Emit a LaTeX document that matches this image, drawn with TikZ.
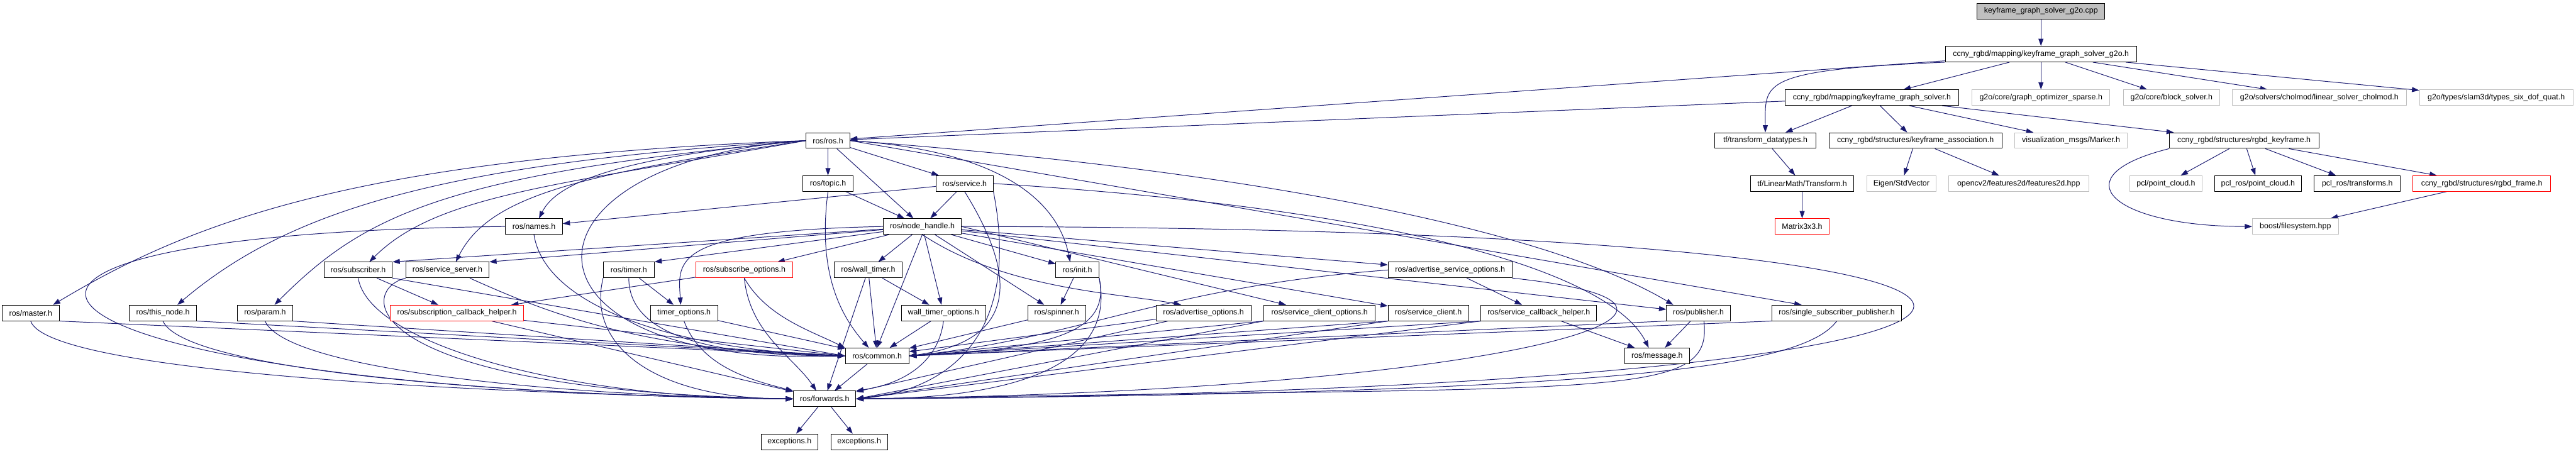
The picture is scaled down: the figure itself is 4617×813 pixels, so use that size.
\documentclass[tikz,border=0pt]{standalone}
\usepackage{fontspec}
\setmainfont{Liberation Sans}
\usepackage{tikz}
\usetikzlibrary{arrows.meta,positioning,backgrounds}
\definecolor{edgeblue}{RGB}{25,25,112}
\definecolor{greyline}{RGB}{191,191,191}

\begin{document}
\begin{tikzpicture}[x=1pt, y=-1pt,
    file/.style={rectangle, draw=black, line width=1.1pt, fill=white, minimum height=28pt,
        inner xsep=3pt, inner ysep=0pt, font=\fontsize{14}{16}\selectfont},
    doc/.style={file},
    ext/.style={file, draw=greyline},
    trunc/.style={file, draw=red},
    root/.style={file, fill=greyline},
    inc/.style={draw=edgeblue, line width=1.1pt, -{Triangle[length=13pt,width=9pt]}},
]
    \useasboundingbox (0,0) rectangle (4617,813);

    \node[root, minimum width=229pt] (cpp) at (3658,20) {keyframe\_graph\_solver\_g2o.cpp};
    \node[doc, minimum width=343pt] (g2oh) at (3658,97) {ccny\_rgbd/mapping/keyframe\_graph\_solver\_g2o.h};

    \node[doc, minimum width=311pt] (kgs) at (3355,175) {ccny\_rgbd/mapping/keyframe\_graph\_solver.h};
    \node[ext, minimum width=247pt] (gos) at (3658,175) {g2o/core/graph\_optimizer\_sparse.h};
    \node[ext, minimum width=172pt] (bs) at (3892,175) {g2o/core/block\_solver.h};
    \node[ext, minimum width=312pt] (lsc) at (4157,175) {g2o/solvers/cholmod/linear\_solver\_cholmod.h};
    \node[ext, minimum width=275pt] (tsdq) at (4474,175) {g2o/types/slam3d/types\_six\_dof\_quat.h};

    \node[doc, minimum width=78pt] (rosh) at (1484,252) {ros/ros.h};
    \node[doc, minimum width=182pt] (tfdt) at (3164,252) {tf/transform\_datatypes.h};
    \node[doc, minimum width=310pt] (kfa) at (3433,252) {ccny\_rgbd/structures/keyframe\_association.h};
    \node[ext, minimum width=202pt] (marker) at (3712,252) {visualization\_msgs/Marker.h};
    \node[doc, minimum width=268pt] (kf) at (4022,252) {ccny\_rgbd/structures/rgbd\_keyframe.h};

    \node[doc, minimum width=90pt] (topic) at (1484,329) {ros/topic.h};
    \node[doc, minimum width=102pt] (service) at (1729,329) {ros/service.h};
    \node[doc, minimum width=185pt] (tflm) at (3230,329) {tf/LinearMath/Transform.h};
    \node[ext, minimum width=124pt] (eigen) at (3408,329) {Eigen/StdVector};
    \node[ext, minimum width=251pt] (cv) at (3618,329) {opencv2/features2d/features2d.hpp};
    \node[ext, minimum width=129pt] (pclpc) at (3882,329) {pcl/point\_cloud.h};
    \node[doc, minimum width=155pt] (pclrospc) at (4047,329) {pcl\_ros/point\_cloud.h};
    \node[doc, minimum width=154pt] (pclrostf) at (4225,329) {pcl\_ros/transforms.h};
    \node[trunc, minimum width=247pt] (frame) at (4448,329) {ccny\_rgbd/structures/rgbd\_frame.h};

    \node[doc, minimum width=102pt] (names) at (957,406) {ros/names.h};
    \node[doc, minimum width=140pt] (nh) at (1653,406) {ros/node\_handle.h};
    \node[trunc, minimum width=97pt] (m3) at (3230,406) {Matrix3x3.h};
    \node[ext, minimum width=154pt] (boostfs) at (4114,406) {boost/filesystem.hpp};

    \node[doc, minimum width=122pt] (subscriber) at (642,484) {ros/subscriber.h};
    \node[doc, minimum width=149pt] (sserver) at (802,484) {ros/service\_server.h};
    \node[doc, minimum width=91pt] (timer) at (1127,484) {ros/timer.h};
    \node[trunc, minimum width=173pt] (subopts) at (1334,484) {ros/subscribe\_options.h};
    \node[doc, minimum width=122pt] (wtimer) at (1556,484) {ros/wall\_timer.h};
    \node[doc, minimum width=77pt] (init) at (1931,484) {ros/init.h};
    \node[doc, minimum width=222pt] (asopts) at (2599,484) {ros/advertise\_service\_options.h};

    \node[doc, minimum width=103pt] (master) at (55,561) {ros/master.h};
    \node[doc, minimum width=120pt] (thisnode) at (292,561) {ros/this\_node.h};
    \node[doc, minimum width=99pt] (param) at (475,561) {ros/param.h};
    \node[trunc, minimum width=239pt] (schelper) at (819,561) {ros/subscription\_callback\_helper.h};
    \node[doc, minimum width=121pt] (topts) at (1226,561) {timer\_options.h};
    \node[doc, minimum width=151pt] (wtopts) at (1691,561) {wall\_timer\_options.h};
    \node[doc, minimum width=104pt] (spinner) at (1894,561) {ros/spinner.h};
    \node[doc, minimum width=170pt] (aopts) at (2157,561) {ros/advertise\_options.h};
    \node[doc, minimum width=200pt] (scopts) at (2365,561) {ros/service\_client\_options.h};
    \node[doc, minimum width=144pt] (sclient) at (2560,561) {ros/service\_client.h};
    \node[doc, minimum width=207pt] (cbhelper) at (2758,561) {ros/service\_callback\_helper.h};
    \node[doc, minimum width=114pt] (publisher) at (3044,561) {ros/publisher.h};
    \node[doc, minimum width=232pt] (ssp) at (3292,561) {ros/single\_subscriber\_publisher.h};

    \node[doc, minimum width=114pt] (common) at (1572,638) {ros/common.h};
    \node[doc, minimum width=117pt] (message) at (2970,638) {ros/message.h};
    \node[doc, minimum width=112pt] (fwd) at (1478,715) {ros/forwards.h};
    \node[doc, minimum width=102pt] (exc1) at (1415,792) {exceptions.h};
    \node[doc, minimum width=102pt] (exc2) at (1540,792) {exceptions.h};

    \begin{scope}[on background layer]
    \fill[white] (0,0) rectangle (4617,813);

    \draw[inc] (cpp) -- (g2oh);
    \draw[inc] (g2oh) -- (kgs);
    \draw[inc] (g2oh) -- (gos);
    \draw[inc] (g2oh) -- (bs);
    \draw[inc] (g2oh) -- (lsc);
    \draw[inc] (g2oh) -- (tsdq);
    \draw[inc] (g2oh) -- (rosh);
    \draw[inc] (g2oh.south west) .. controls +(-337,14) and +(0,-88) .. (tfdt.north);
    \draw[inc] (kgs) -- (rosh);
    \draw[inc] (kgs) -- (tfdt);
    \draw[inc] (kgs) -- (kfa);
    \draw[inc] (kgs) -- (marker);
    \draw[inc] (kgs) -- (kf);
    \draw[inc] (tfdt) -- (tflm);
    \draw[inc] (tflm) -- (m3);
    \draw[inc] (kfa) -- (eigen);
    \draw[inc] (kfa) -- (cv);
    \draw[inc] (kf) -- (pclpc);
    \draw[inc] (kf) -- (pclrospc);
    \draw[inc] (kf) -- (pclrostf);
    \draw[inc] (kf) -- (frame);
    \draw[inc] (kf.south west) .. controls +(-200,50) and +(-250,0) .. (boostfs.west);
    \draw[inc] (frame) -- (boostfs);

    \draw[inc] (rosh) -- (topic);
    \draw[inc] (rosh) -- (service);
    \draw[inc] (rosh) -- (nh);
    \draw[inc] (rosh.west) .. controls +(-350,30) and +(30,-60) .. ([xshift=9]names.north);
    \draw[inc] (rosh.west) .. controls +(-800,30) and +(250,-150) .. ([xshift=40]master.north);
    \draw[inc] (rosh.west) .. controls +(-650,40) and +(200,-170) .. ([xshift=26]thisnode.north);
    \draw[inc] (rosh.west) .. controls +(-650,60) and +(160,-160) .. ([xshift=17]param.north);
    \draw[inc] (rosh.west) .. controls +(-450,80) and +(120,-120) .. ([xshift=20]subscriber.north);
    \draw[inc] (rosh.west) .. controls +(-400,60) and +(60,-120) .. ([xshift=15]sserver.north);
    \draw[inc] (rosh.east) .. controls +(300,20) and +(-18,-90) .. ([xshift=-13]init.north);
    \draw[inc] (rosh.east) .. controls +(800,60) and +(-200,-120) .. ([xshift=-45]publisher.north);
    \draw[inc] (rosh.east) -- ([xshift=-63]ssp.north);
    \draw[inc] (rosh.west) .. controls +(-545,38) and +(-615,22) .. (common.west);

    \draw[inc] (topic) -- (nh);
    \draw[inc] (topic.south) .. controls +(-20,150) and +(-47,-54) .. ([xshift=-15]common.north);
    \draw[inc] (service) -- (nh);
    \draw[inc] (service) -- (names);
    \draw[inc] (service.south) .. controls +(91,147) and +(201,-28) .. (common.east);
    \draw[inc] (service.east) .. controls +(800,50) and +(-60,-120) .. ([xshift=-15]message.north);
    \draw[inc] (service.south east) .. controls +(50,257) and +(166,-15) .. (fwd.east);
    \draw[inc] (names.south) .. controls +(20,130) and +(-300,-10) .. (common.west);
    \draw[inc] (names.west) .. controls +(-1206,14) and +(-1422,-15) .. (fwd.west);

    \draw[inc] (nh) -- (subscriber.north east);
    \draw[inc] (nh) -- (sserver.north east);
    \draw[inc] (nh) -- (timer.north east);
    \draw[inc] (nh) -- (subopts);
    \draw[inc] (nh) -- (wtimer);
    \draw[inc] (nh) -- (init);
    \draw[inc] (nh) -- (asopts);
    \draw[inc] (nh) -- (wtopts);
    \draw[inc] (nh) -- (spinner);
    \draw[inc] (nh.south) .. controls +(150,100) and +(-100,-20) .. ([xshift=-40]aopts.north);
    \draw[inc] (nh.east) -- ([xshift=-60]scopts.north);
    \draw[inc] (nh) -- (sclient);
    \draw[inc] (nh) -- (publisher);
    \draw[inc] (nh.west) .. controls +(-380,8) and +(-5,-80) .. ([xshift=-6]topts.north);
    \draw[inc] (nh.south) -- (common.north);
    \draw[inc] (nh.east) .. controls +(2377,4) and +(2416,-15) .. (fwd.east);

    \draw[inc] (subscriber) -- (schelper);
    \draw[inc] (subscriber.south east) -- (common.west);
    \draw[inc] (subscriber.south) .. controls +(20,120) and +(-400,0) .. (fwd.west);
    \draw[inc] ([xshift=40]sserver.south) .. controls +(138,62) and +(-365,-8) .. (common.west);
    \draw[inc] (sserver.south west) .. controls +(-88,22) and +(-782,-15) .. (fwd.west);
    \draw[inc] (timer) -- (topts);
    \draw[inc] (timer.south) .. controls +(0,100) and +(-250,0) .. (common.west);
    \draw[inc] (timer.south west) .. controls +(-30,120) and +(-250,0) .. (fwd.west);
    \draw[inc] (subopts) -- (schelper);
    \draw[inc] (subopts.south) .. controls +(40,70) and +(-60,-30) .. (common.north west);
    \draw[inc] (subopts.south) .. controls +(10,100) and +(-40,-60) .. ([xshift=-15]fwd.north);
    \draw[inc] (wtimer) -- (wtopts);
    \draw[inc] (wtimer) -- (common);
    \draw[inc] (wtimer) -- (fwd);
    \draw[inc] (init) -- (spinner);
    \draw[inc] (init.south east) .. controls +(20,92) and +(270,-13) .. (common.east);
    \draw[inc] (init.south east) .. controls +(30,150) and +(300,0) .. (fwd.east);
    \draw[inc] (asopts) -- (cbhelper);
    \draw[inc] (asopts.west) .. controls +(-400,30) and +(300,-30) .. (common.east);
    \draw[inc] (asopts.south east) .. controls +(490,52) and +(1166,-15) .. (fwd.east);

    \draw[inc] (master.south east) -- (common.west);
    \draw[inc] (master.south) .. controls +(30,90) and +(-600,-10) .. (fwd.west);
    \draw[inc] (thisnode.south east) -- (common.west);
    \draw[inc] (thisnode.south) .. controls +(40,90) and +(-500,-5) .. (fwd.west);
    \draw[inc] (param.south east) -- (common.west);
    \draw[inc] (param.south) .. controls +(40,90) and +(-400,-5) .. (fwd.west);
    \draw[inc] (schelper) -- (common.west);
    \draw[inc] (schelper) -- (fwd);
    \draw[inc] (topts) -- (common);
    \draw[inc] (topts.south) .. controls +(30,80) and +(-80,-20) .. (fwd.north west);
    \draw[inc] (wtopts) -- (common);
    \draw[inc] (wtopts.south) .. controls +(-10,80) and +(76,-11) .. (fwd.north east);
    \draw[inc] (spinner) -- (common);
    \draw[inc] (aopts) -- (common);
    \draw[inc] (aopts) -- (fwd);
    \draw[inc] (scopts.south west) -- (common.east);
    \draw[inc] (scopts.south west) -- (fwd.east);
    \draw[inc] (sclient.south west) -- (common.east);
    \draw[inc] (sclient.south west) -- (fwd.east);
    \draw[inc] (cbhelper) -- (message);
    \draw[inc] (cbhelper.south west) -- (common.east);
    \draw[inc] (cbhelper.south west) -- (fwd.east);
    \draw[inc] (publisher) -- (message);
    \draw[inc] (publisher.south west) -- (common.east);
    \draw[inc] ([xshift=10]publisher.south) .. controls +(16,145) and +(1366,-25) .. (fwd.east);
    \draw[inc] (ssp.south west) -- (common.east);
    \draw[inc] (ssp.south) .. controls +(-60,80) and +(1400,-10) .. (fwd.east);

    \draw[inc] (common) -- (fwd);
    \draw[inc] (fwd) -- (exc1);
    \draw[inc] (fwd) -- (exc2);
    \end{scope}
\end{tikzpicture}
\end{document}
